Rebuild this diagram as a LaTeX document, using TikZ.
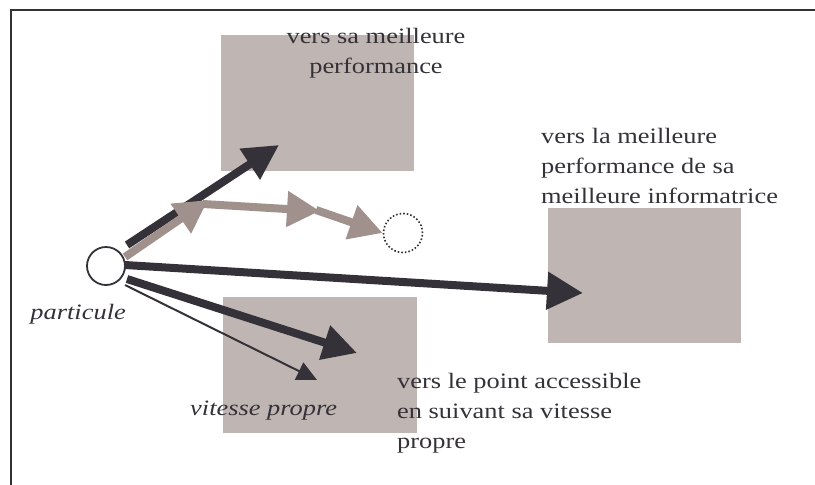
\documentclass[tikz,border=0pt]{standalone}
\usepackage{fontspec}
\usepackage{graphicx}
\setmainfont{Liberation Serif}
\usetikzlibrary{arrows.meta}
\definecolor{dk}{HTML}{343238}
\definecolor{boxc}{HTML}{BFB5B2}
\definecolor{gr}{HTML}{A0918C}
\newcommand{\stx}[1]{\scalebox{1.2}[1]{#1}}
\begin{document}
\begin{tikzpicture}[x=1pt,y=-1pt,
  boxr/.style={fill=boxc,draw=none},
  darr/.style={draw=dk,line width=8pt,-{Triangle[length=35pt,width=35pt]}},
  garr/.style={draw=gr,line width=8pt,-{Triangle[length=33pt,width=34pt]}},
  thinarr/.style={draw=dk,line width=2pt,-{Triangle[length=20pt,width=19pt]}},
  lbl/.style={inner sep=0pt,text=dk,font=\fontsize{22}{30}\selectfont},
  frm/.style={draw=dk,line width=2.5pt}
]
\useasboundingbox (0,0) rectangle (815,485);
% frame
\coordinate (f1) at (815,10);
\coordinate (f2) at (11,10);
\coordinate (f3) at (11,485);
\draw[frm] (f1) -- (f2) -- (f3);
% boxes
\fill[boxr] (221,35) rectangle (414,171);
\fill[boxr] (223,297) rectangle (417,433);
\fill[boxr] (548,208) rectangle (741,343);
% particle and target
\node[circle,draw=dk,line width=1.8pt,minimum size=38pt,inner sep=0pt,fill=white] (p) at (106,266) {};
\node[circle,draw=dk,line width=1.6pt,dash pattern=on 1.6pt off 2pt,minimum size=39pt,inner sep=0pt] (t) at (403,233) {};
% coordinates
\coordinate (s1) at (127,245);
\coordinate (e1) at (279,145);
\coordinate (s2) at (125,265);
\coordinate (e2) at (583,293);
\coordinate (s3) at (127,279);
\coordinate (e3) at (357,353);
\coordinate (s4) at (125,285);
\coordinate (e4) at (317,380);
\coordinate (g0) at (125,257);
\coordinate (g1) at (208,200);
\coordinate (g1b) at (203,204);
\coordinate (g2) at (320,211);
\coordinate (g2b) at (316,210);
% dark arrows
\draw[darr] (s1) -- (e1);
\draw[darr,-{Triangle[length=36pt,width=36pt]}] (s2) -- (e2);
\draw[darr,-{Triangle[length=34pt,width=34pt]}] (s3) -- (e3);
\draw[thinarr] (s4) -- (e4);
% gray arrows
\draw[garr] (g0) -- (g1);
\draw[garr] (g1b) -- (g2);
\draw[garr] (g2b) -- (t.west);
% labels
\node[lbl,anchor=base] (l1) at (376,43) {\stx{\begin{tabular}[t]{@{}c@{}}vers sa meilleure\\performance\end{tabular}}};
\node[lbl,anchor=base west] (l2) at (541,143) {\stx{\begin{tabular}[t]{@{}l@{}}vers la meilleure\\performance de sa\\meilleure informatrice\end{tabular}}};
\node[lbl,anchor=base west] (l3) at (397,388) {\stx{\begin{tabular}[t]{@{}l@{}}vers le point accessible\\en suivant sa vitesse\\propre\end{tabular}}};
\node[lbl,anchor=base east] (l4) at (126,319) {\stx{\itshape particule}};
\node[lbl,anchor=base west] (l5) at (190,415) {\stx{\itshape vitesse propre}};
\end{tikzpicture}
\end{document}
